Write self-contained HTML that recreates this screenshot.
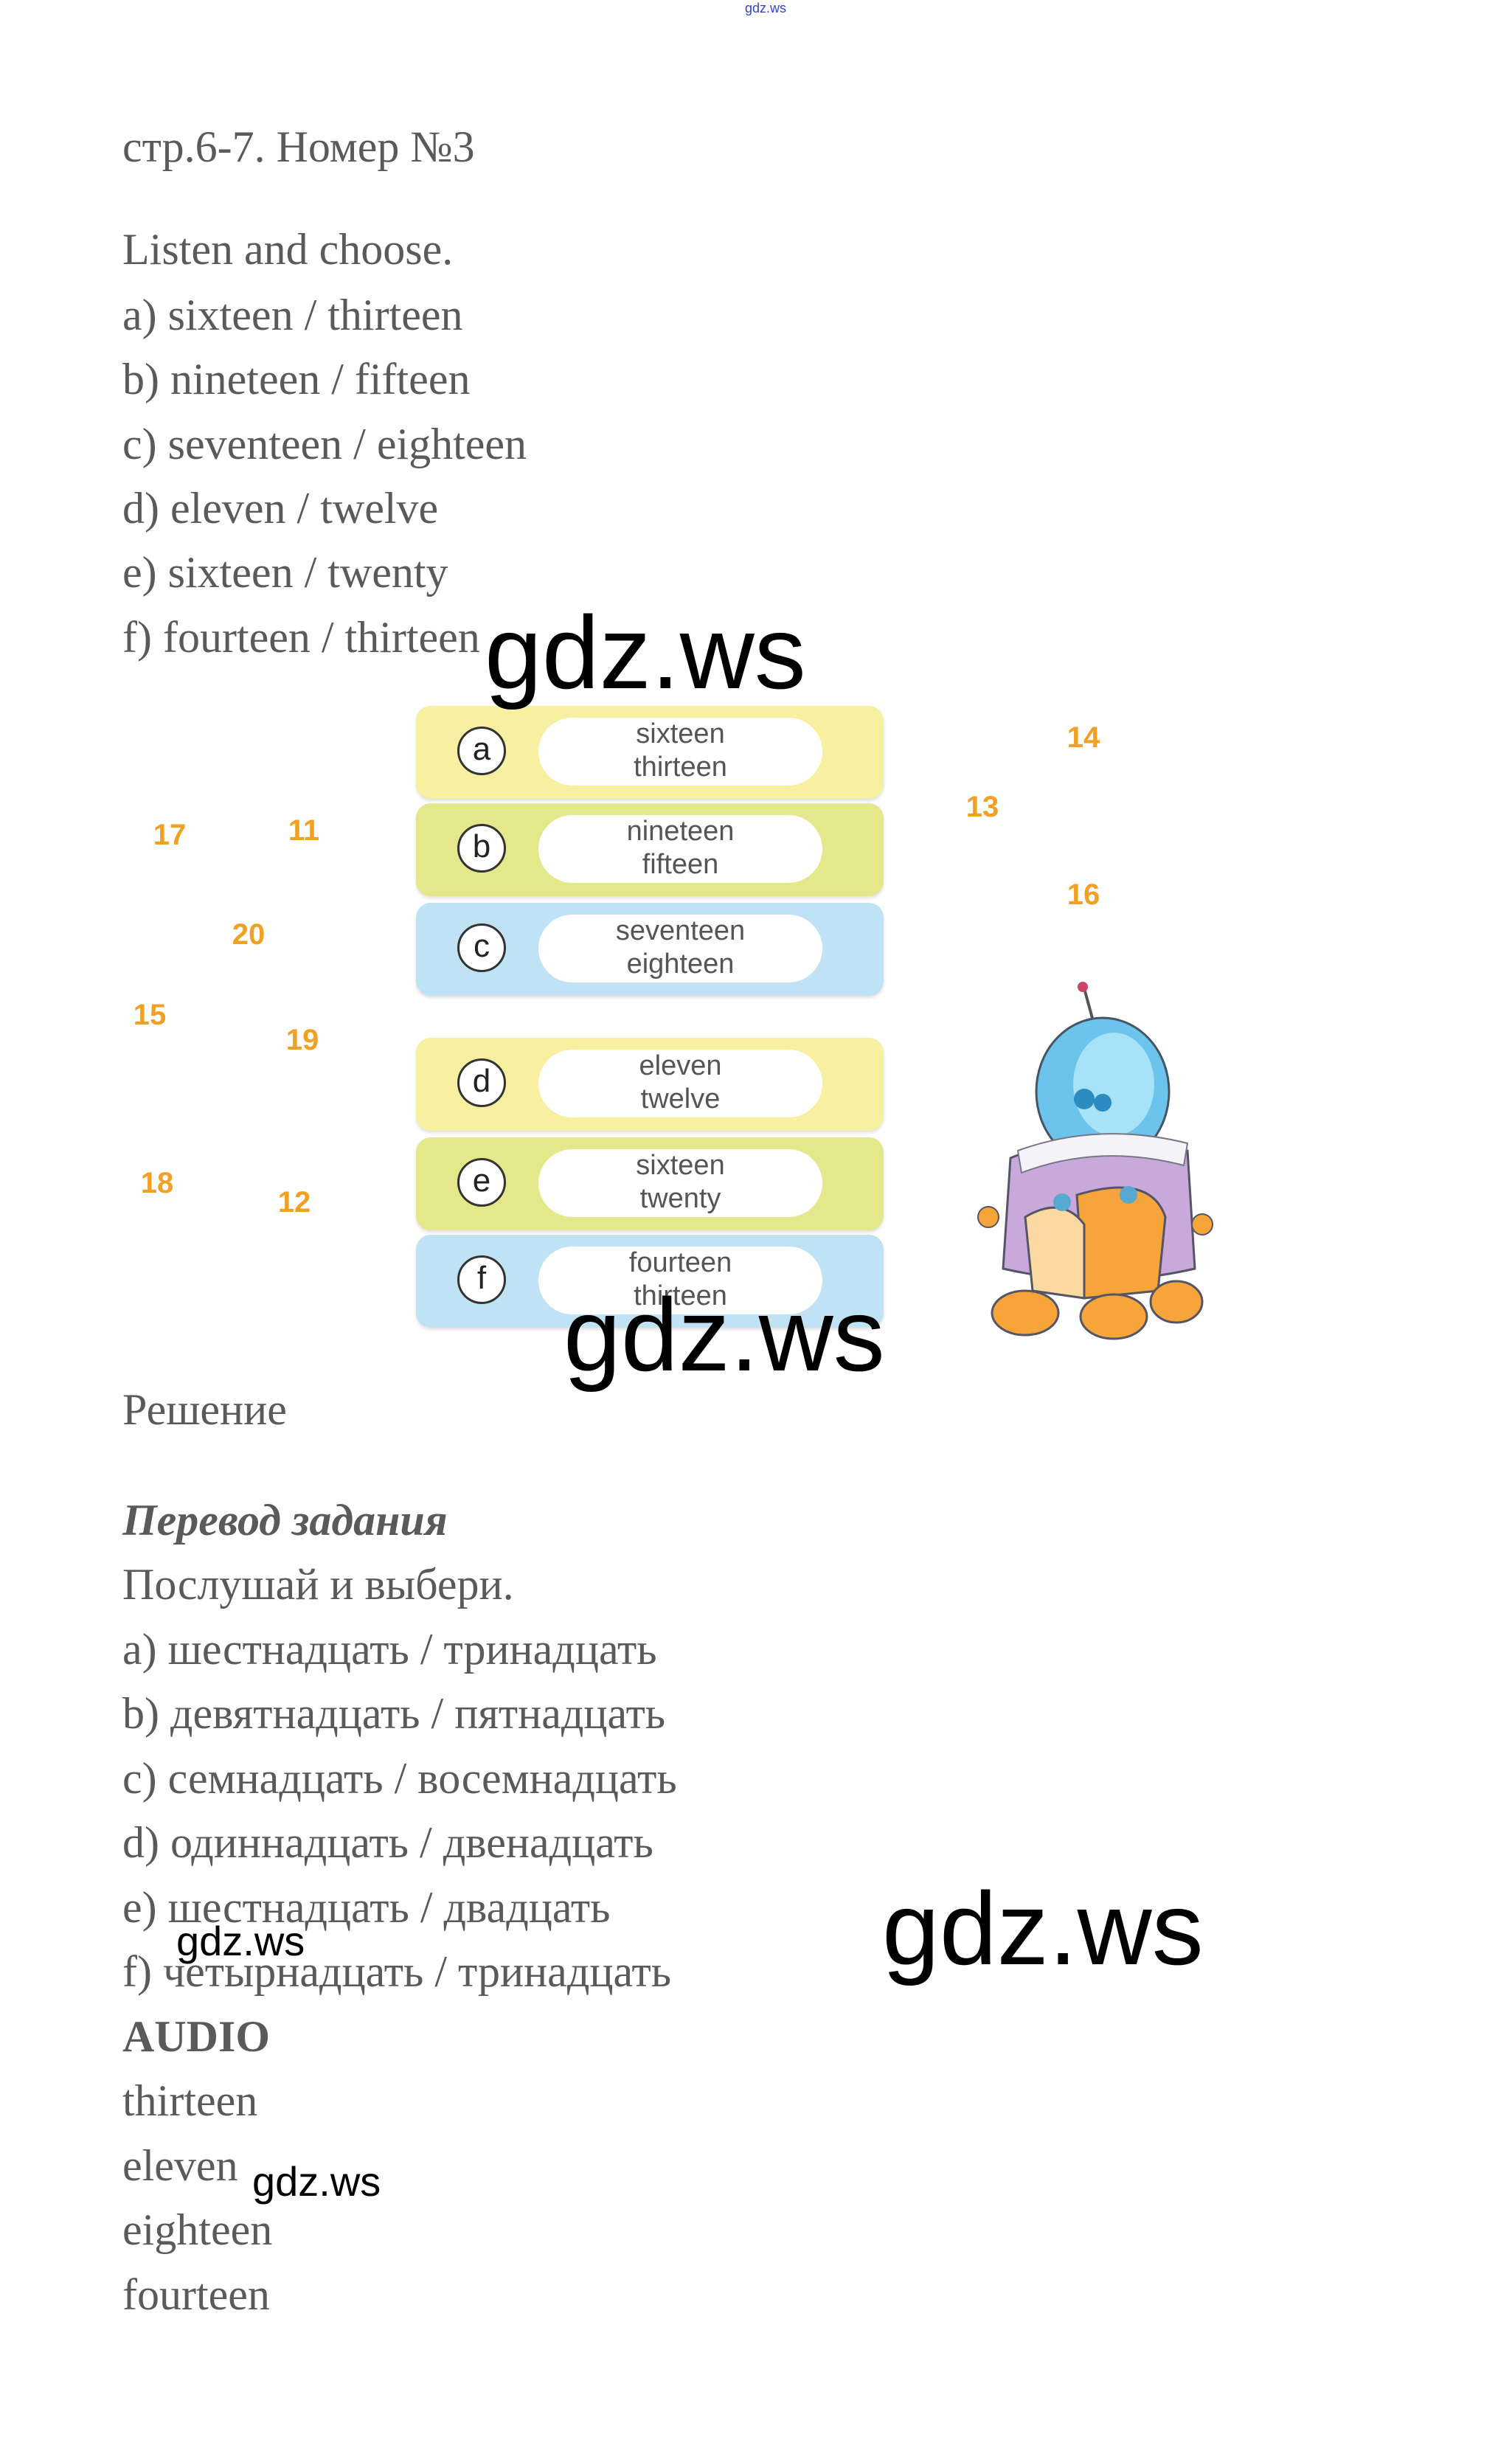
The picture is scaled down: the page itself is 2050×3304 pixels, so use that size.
<!DOCTYPE html>
<html><head><meta charset="utf-8">
<style>
html,body{margin:0;padding:0;background:#fff;}
body{width:2050px;height:3304px;position:relative;overflow:hidden;font-family:"Liberation Serif","Noto Serif CJK SC",serif;color:#5a5a5a;}
.t{position:absolute;left:166px;font-size:60px;line-height:64px;white-space:nowrap;}
.w{position:absolute;font-family:"Liberation Sans","DejaVu Sans",sans-serif;color:#000;white-space:nowrap;line-height:1;}
.n{position:absolute;font-family:"Liberation Sans",sans-serif;font-weight:bold;color:#f2a024;font-size:40px;line-height:1;transform:translate(-50%,-50%);}
.p{position:absolute;left:564px;width:634px;height:126px;border-radius:20px;box-shadow:0 3px 4px rgba(0,0,0,0.12);}
.c{position:absolute;left:56px;top:28px;width:66px;height:66px;border:3px solid #333;border-radius:50%;background:#fff;box-sizing:border-box;font-family:"Liberation Sans",sans-serif;font-size:44px;line-height:56px;text-align:center;color:#222;}
.pill{position:absolute;left:166px;top:16px;width:385px;height:92px;background:#fff;border-radius:46px;font-family:"Liberation Sans",sans-serif;font-size:38px;line-height:45px;text-align:center;color:#555;}
</style></head><body>
<div class="w" style="left:1010px;top:2px;font-size:18px;color:#3344cc;">gdz.ws</div>

<div class="t" style="top:167px;">стр.6-7. Номер №3</div>
<div class="t" style="top:306px;">Listen and choose.</div>
<div class="t" style="top:395px;">a) sixteen / thirteen</div>
<div class="t" style="top:482px;">b) nineteen / fifteen</div>
<div class="t" style="top:570px;">c) seventeen / eighteen</div>
<div class="t" style="top:657px;">d) eleven / twelve</div>
<div class="t" style="top:744px;">e) sixteen / twenty</div>
<div class="t" style="top:832px;">f) fourteen / thirteen</div>

<div class="p" style="top:957px;background:#f6f0a0;"><div class="c">a</div><div class="pill">sixteen<br>thirteen</div></div>
<div class="p" style="top:1089px;background:#e4e78a;"><div class="c">b</div><div class="pill">nineteen<br>fifteen</div></div>
<div class="p" style="top:1224px;background:#bfe3f5;"><div class="c">c</div><div class="pill">seventeen<br>eighteen</div></div>
<div class="p" style="top:1407px;background:#f6f0a0;"><div class="c">d</div><div class="pill">eleven<br>twelve</div></div>
<div class="p" style="top:1542px;background:#e4e78a;"><div class="c">e</div><div class="pill">sixteen<br>twenty</div></div>
<div class="p" style="top:1674px;background:#bfe3f5;"><div class="c">f</div><div class="pill">fourteen<br>thirteen</div></div>

<div class="n" style="left:230px;top:1132px;">17</div>
<div class="n" style="left:412px;top:1126px;">11</div>
<div class="n" style="left:337px;top:1267px;">20</div>
<div class="n" style="left:203px;top:1376px;">15</div>
<div class="n" style="left:410px;top:1410px;">19</div>
<div class="n" style="left:213px;top:1604px;">18</div>
<div class="n" style="left:399px;top:1630px;">12</div>
<div class="n" style="left:1469px;top:1000px;">14</div>
<div class="n" style="left:1332px;top:1094px;">13</div>
<div class="n" style="left:1469px;top:1213px;">16</div>

<svg style="position:absolute;left:1320px;top:1320px;" width="330" height="500" viewBox="0 0 330 500">
 <line x1="150" y1="20" x2="165" y2="75" stroke="#555" stroke-width="4"/>
 <circle cx="148" cy="18" r="7" fill="#c46"/>
 <ellipse cx="175" cy="160" rx="90" ry="100" fill="#6cc4ec" stroke="#456" stroke-width="3"/>
 <ellipse cx="190" cy="150" rx="55" ry="70" fill="#a8e2f8"/>
 <circle cx="150" cy="170" r="14" fill="#2a8cc0"/>
 <circle cx="175" cy="175" r="12" fill="#2a8cc0"/>
 <path d="M50 250 Q170 200 290 240 L300 400 Q170 430 40 400 Z" fill="#c9a8dc" stroke="#556" stroke-width="3"/>
 <path d="M60 240 Q170 200 290 230 L285 260 Q170 230 65 270 Z" fill="#f4f4f8" stroke="#778" stroke-width="2"/>
 <path d="M140 300 Q240 270 260 330 L250 430 L150 440 Z" fill="#f7a43a" stroke="#556" stroke-width="3"/>
 <path d="M70 330 Q120 300 150 340 L150 440 L80 430 Z" fill="#fbd9a0" stroke="#556" stroke-width="3"/>
 <ellipse cx="70" cy="460" rx="45" ry="30" fill="#f7a43a" stroke="#556" stroke-width="3"/>
 <ellipse cx="190" cy="465" rx="45" ry="30" fill="#f7a43a" stroke="#556" stroke-width="3"/>
 <ellipse cx="275" cy="445" rx="35" ry="28" fill="#f7a43a" stroke="#556" stroke-width="3"/>
 <circle cx="20" cy="330" r="14" fill="#f7a43a" stroke="#556" stroke-width="2"/>
 <circle cx="310" cy="340" r="14" fill="#f7a43a" stroke="#556" stroke-width="2"/>
 <circle cx="120" cy="310" r="12" fill="#58a8d0"/>
 <circle cx="210" cy="300" r="12" fill="#58a8d0"/>
</svg>

<div class="w" style="left:657px;top:815px;font-size:140px;">gdz.ws</div>
<div class="w" style="left:764px;top:1740px;font-size:140px;">gdz.ws</div>
<div class="w" style="left:1196px;top:2545px;font-size:140px;">gdz.ws</div>

<div class="t" style="top:1879px;">Решение</div>
<div class="t" style="top:2029px;font-weight:bold;font-style:italic;">Перевод задания</div>
<div class="t" style="top:2116px;">Послушай и выбери.</div>
<div class="t" style="top:2204px;">a) шестнадцать / тринадцать</div>
<div class="t" style="top:2291px;">b) девятнадцать / пятнадцать</div>
<div class="t" style="top:2379px;">c) семнадцать / восемнадцать</div>
<div class="t" style="top:2466px;">d) одиннадцать / двенадцать</div>
<div class="t" style="top:2554px;">e) шестнадцать / двадцать</div>
<div class="t" style="top:2641px;">f) четырнадцать / тринадцать</div>
<div class="t" style="top:2729px;font-weight:bold;">AUDIO</div>
<div class="t" style="top:2816px;">thirteen</div>
<div class="t" style="top:2904px;">eleven</div>
<div class="t" style="top:2991px;">eighteen</div>
<div class="t" style="top:3079px;">fourteen</div>

<div class="w" style="left:239px;top:2604px;font-size:56px;">gdz.ws</div>
<div class="w" style="left:342px;top:2930px;font-size:56px;">gdz.ws</div>
</body></html>
